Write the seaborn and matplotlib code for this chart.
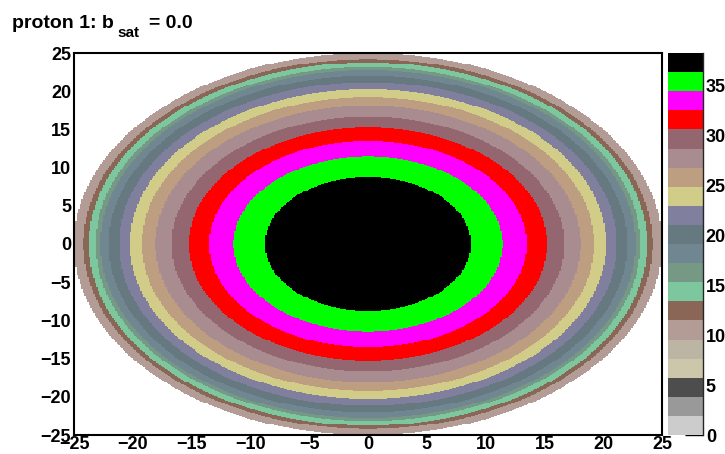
import numpy as np
import pandas as pd
import matplotlib
matplotlib.use("Agg")
import matplotlib.pyplot as plt
from matplotlib.colors import ListedColormap
from matplotlib.ticker import MultipleLocator
import seaborn as sns

# palette bands, bottom (0) to top (z_max)
band_colors = [
    "#cccccc", "#999999", "#4d4d4d", "#ccc7aa", "#bdb5a3",
    "#b29c95", "#8a6657", "#7dc79e", "#759985", "#708791",
    "#667880", "#80809e", "#d1cc87", "#bd9e80", "#a88c8f",
    "#946670", "#ff0000", "#ff00ff", "#00ff00", "#000000",
]
z_max = 38.2
cbar_ticks = [0, 5, 10, 15, 20, 25, 30, 35]

# rings: outer radius and palette band, centre outwards
ring_outer_r = [8.76, 11.45, 13.5, 15.23, 16.68, 18.08, 19.23, 20.25,
                21.18, 22.05, 22.75, 23.15, 23.75, 24.2, 25.0]
ring_band = [19, 18, 17, 16, 15, 14, 13, 12, 11, 10, 9, 8, 7, 6, 5]

n_bins = 400
lim = 25
title_main = "proton 1: b"
title_sub = "sat"
title_tail = "= 0.0"

sns.set_style("white")
plt.rcParams["font.family"] = ["Liberation Sans", "DejaVu Sans"]
plt.rcParams["font.weight"] = "bold"
plt.rcParams["text.color"] = "black"

# one entry per bin centre, weighted with the level of its ring
edges = np.linspace(-lim, lim, n_bins + 1)
centers = (edges[:-1] + edges[1:]) / 2
gx, gy = np.meshgrid(centers, centers)
r = np.hypot(gx, gy).ravel()
level_w = z_max / len(band_colors)
band_mid = (np.array(ring_band) + 0.5) * level_w
idx = np.searchsorted(ring_outer_r, r)
z = np.zeros(r.size)
inside = idx < len(ring_outer_r)
z[inside] = band_mid[idx[inside]]
df = pd.DataFrame({"x": gx.ravel(), "y": gy.ravel(), "z": z})

W, H = 725, 454
fig = plt.figure(figsize=(W / 100, H / 100), dpi=100)
ax = fig.add_axes([74 / W, 1 - 435 / H, 588 / W, 382 / H])
cax = fig.add_axes([668 / W, 1 - 435 / H, 35 / W, 382 / H])

cmap = ListedColormap(band_colors)
sns.histplot(data=df, x="x", y="y", weights="z", bins=n_bins,
             binrange=((-lim, lim), (-lim, lim)), cmap=cmap,
             vmin=0, vmax=z_max, cbar=True, cbar_ax=cax, ax=ax)
ax.collections[0].set_clim(0, z_max)

ax.set_xlim(-lim, lim)
ax.set_ylim(-lim, lim)
ax.set_xlabel("")
ax.set_ylabel("")
ax.xaxis.set_major_locator(MultipleLocator(5))
ax.xaxis.set_minor_locator(MultipleLocator(1))
ax.yaxis.set_major_locator(MultipleLocator(5))
ax.yaxis.set_minor_locator(MultipleLocator(1))
ax.tick_params(which="both", direction="in", top=False, right=False,
               labelsize=13, colors="black")
ax.tick_params(axis="x", which="major", length=9, width=1, pad=1)
ax.tick_params(axis="x", which="minor", length=4.5, width=1)
ax.tick_params(axis="y", which="major", length=12, width=1, pad=2)
ax.tick_params(axis="y", which="minor", length=6, width=1)
for s in ax.spines.values():
    s.set_visible(True)
    s.set_color("black")
    s.set_linewidth(1.5)

cb = ax.collections[0].colorbar
cb.outline.set_visible(False)
cb.set_ticks(cbar_ticks)
cax.tick_params(direction="in", length=13, width=1, right=True,
                labelsize=13, pad=2, colors="black")
cax.spines["right"].set_visible(True)
cax.spines["right"].set_linewidth(1)

# title pieces, ROOT style subscript
fig.canvas.draw()
rend = fig.canvas.get_renderer()
t1 = fig.text(12 / W, 1 - 28 / H, title_main, fontsize=14, color="black",
              fontweight="bold", ha="left", va="baseline")
bb = t1.get_window_extent(rend)
t2 = fig.text((bb.x1 + 4) / W, 1 - 37 / H, title_sub, fontsize=11,
              color="black", fontweight="bold", ha="left", va="baseline")
bb2 = t2.get_window_extent(rend)
fig.text((bb2.x1 + 9) / W, 1 - 28 / H, title_tail, fontsize=14,
         color="black", fontweight="bold", ha="left", va="baseline")

fig.savefig("out.png", dpi=100)
